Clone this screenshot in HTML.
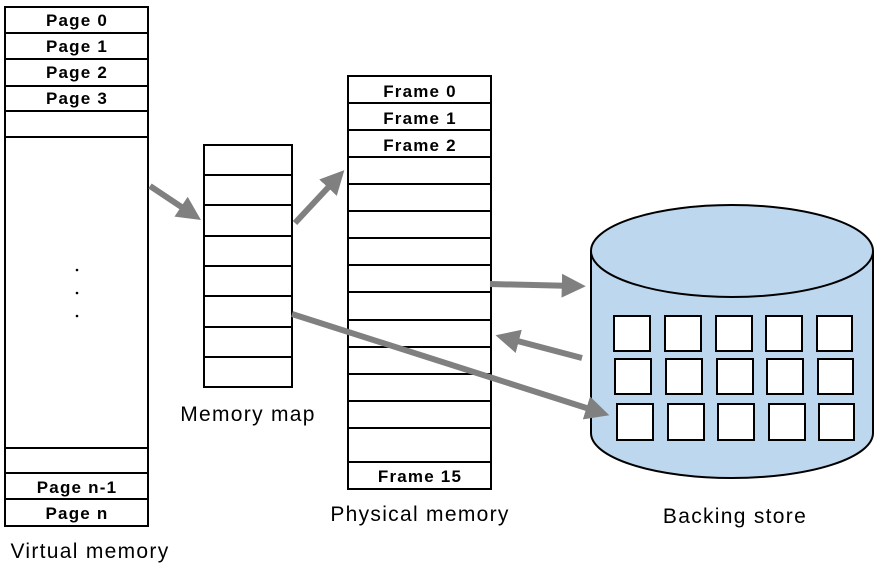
<!DOCTYPE html>
<html><head><meta charset="utf-8"><style>
body{margin:0;background:#fff}
svg{display:block}
.b{font-family:"Liberation Sans","Noto Sans CJK KR",sans-serif;font-weight:bold;font-size:17px;letter-spacing:1.2px;text-anchor:middle}
.l{font-family:"Liberation Sans","Noto Sans CJK KR",sans-serif;font-size:21px;letter-spacing:1.3px;text-anchor:middle}
</style></head><body>
<svg width="884" height="570" viewBox="0 0 884 570">
<defs><marker id="ah" markerWidth="4" markerHeight="4" refX="2.2" refY="2" orient="auto" markerUnits="strokeWidth"><path d="M0,0 L4,2 L0,4 z" fill="#808080"/></marker></defs>
<g fill="none" stroke="#000" stroke-width="2">
<rect x="5" y="7" width="143" height="519" fill="#fff"/>
<path d="M5 33H148M5 59H148M5 86H148M5 111H148M5 137H148M5 448H148M5 473H148M5 499H148"/>
<rect x="204" y="145" width="88" height="242" fill="#fff"/>
<path d="M204 175H292M204 205H292M204 236H292M204 266H292M204 296H292M204 327H292M204 357H292"/>
<rect x="348" y="76" width="143" height="413" fill="#fff"/>
<path d="M348 103H491M348 130H491M348 157H491M348 184H491M348 211H491M348 238H491M348 265H491M348 292H491M348 320H491M348 347H491M348 374H491M348 401H491M348 428H491M348 462H491"/>
</g>
<g class="b">
<text x="77" y="26">Page 0</text><text x="77" y="52">Page 1</text><text x="77" y="78">Page 2</text><text x="77" y="104">Page 3</text>
<text x="77" y="493">Page n-1</text><text x="77" y="519">Page n</text>
<text x="420" y="97">Frame 0</text><text x="420" y="124">Frame 1</text><text x="420" y="151">Frame 2</text><text x="420" y="482">Frame 15</text>
</g>
<g fill="#000"><circle cx="77" cy="270" r="1.3"/><circle cx="77" cy="293" r="1.3"/><circle cx="77" cy="316" r="1.3"/></g>
<path d="M591 251 V433 A141 45 0 0 0 873 433 V251" fill="#bdd7ee" stroke="#000" stroke-width="2"/>
<ellipse cx="732" cy="251" rx="141" ry="46" fill="#bdd7ee" stroke="#000" stroke-width="2"/>
<g fill="#fff" stroke="#000" stroke-width="2">
<rect x="614" y="316" width="36" height="35"/><rect x="665" y="316" width="36" height="35"/><rect x="716" y="316" width="36" height="35"/><rect x="766" y="316" width="36" height="35"/><rect x="817" y="316" width="35" height="35"/>
<rect x="615" y="359" width="36" height="35"/><rect x="666" y="359" width="36" height="35"/><rect x="717" y="359" width="36" height="35"/><rect x="767" y="359" width="36" height="35"/><rect x="818" y="359" width="35" height="35"/>
<rect x="617" y="404" width="36" height="36"/><rect x="668" y="404" width="36" height="36"/><rect x="718" y="404" width="36" height="36"/><rect x="769" y="404" width="36" height="36"/><rect x="819" y="404" width="35" height="36"/>
</g>
<g stroke="#808080" stroke-width="6" fill="none" marker-end="url(#ah)">
<line x1="150" y1="186" x2="192" y2="214"/>
<line x1="295" y1="223" x2="337" y2="178"/>
<line x1="490" y1="284" x2="575" y2="286"/>
<line x1="582" y1="358" x2="506" y2="338"/>
<line x1="292" y1="314" x2="599" y2="412"/>
</g>
<g class="l">
<text x="248" y="421">Memory map</text>
<text x="420" y="521">Physical memory</text>
<text x="735" y="523">Backing store</text>
<text x="90" y="558">Virtual memory</text>
</g>
</svg>
</body></html>
